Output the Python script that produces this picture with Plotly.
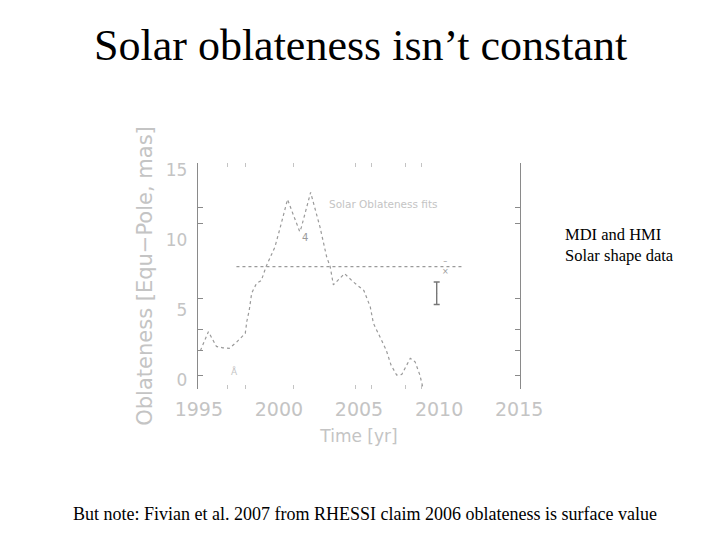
import plotly.graph_objects as go

# Oblateness curve
years = [1995.1, 1995.6, 1996.1, 1996.5, 1996.9, 1997.35, 1997.9, 1998.0, 1998.15, 1998.3,
         1998.6, 1998.9, 1999.2, 1999.75, 2000.06, 2000.54, 2000.9, 2001.3, 2001.4, 2001.98,
         2002.56, 2002.98, 2003.2, 2003.4, 2003.75, 2004.1, 2004.65, 2005.3, 2005.7, 2005.9,
         2006.4, 2006.7, 2007.0, 2007.35, 2007.67, 2008.2, 2008.5, 2008.8, 2009.0]
oblateness = [2.1, 3.45, 2.4, 2.3, 2.26, 2.7, 3.33, 4.2, 5.0, 6.2,
              6.9, 7.1, 8.1, 9.5, 10.8, 12.9, 11.8, 10.6, 10.9, 13.4,
              10.95, 8.8, 8.1, 6.8, 7.2, 7.6, 7.0, 6.4, 5.24, 4.05,
              2.86, 2.14, 1.07, 0.36, 0.4, 1.55, 1.3, 0.36, -0.6]

mean_years = [1997.35, 2011.4]
mean_value = [8.1, 8.1]

err_year = [2009.85]
err_value = [6.2]
err_half = [0.8]

x_tick_years = [1995, 2000, 2005, 2010, 2015]
y_tick_values = [0, 5, 10, 15]
x_minor = [1996.8, 1997.9, 2000.9, 2004.75, 2005.8, 2007.9, 2008.9]
y_minor = [0.36, 2.1, 3.6, 5.8, 11.2, 12.3]

faint = "#c4c4c4"
mid = "#9a9a9a"

# plot area in screen pixels: x 198..520, y 163..389 (page has an 8px body margin)
L, R, T, B = 190, 208, 155, 159
PW, PH = 322, 226


def px(x):
    return (x - 198) / PW


def py(y):
    return (389 - y) / PH


fig = go.Figure()
fig.add_trace(go.Scatter(x=years, y=oblateness, mode="lines",
                         line=dict(color=mid, width=1.2, dash="dot"), hoverinfo="skip"))
fig.add_trace(go.Scatter(x=mean_years, y=mean_value, mode="lines",
                         line=dict(color=mid, width=1.2, dash="dot"), hoverinfo="skip"))
fig.add_trace(go.Scatter(x=err_year, y=err_value, mode="markers",
                         marker=dict(size=1, color="#777"),
                         error_y=dict(type="data", array=err_half, color="#777",
                                      thickness=1.4, width=3), hoverinfo="skip"))
# invisible trace to activate overlay axes for minor ticks
fig.add_trace(go.Scatter(x=[2000], y=[5], xaxis="x2", yaxis="y2", mode="markers",
                         marker=dict(opacity=0), hoverinfo="skip"))

fig.update_layout(
    width=720, height=540,
    paper_bgcolor="white", plot_bgcolor="white",
    showlegend=False,
    margin=dict(l=L, r=R, t=T, b=B),
    xaxis=dict(range=[1994.95, 2015.05], tickvals=x_tick_years,
               ticktext=[str(v) for v in x_tick_years], ticks="", showgrid=False,
               zeroline=False, showline=False,
               tickfont=dict(family="DejaVu Sans", size=19, color=faint),
               ticklabelstandoff=7,
               title=dict(text="Time [yr]", standoff=11,
                          font=dict(family="DejaVu Sans", size=17, color=faint))),
    yaxis=dict(range=[-0.64, 15.5], tickvals=y_tick_values,
               ticktext=[str(v) for v in y_tick_values], ticks="", showgrid=False,
               zeroline=False, showline=True, linecolor="#8a8a8a", linewidth=1.3,
               mirror=True,
               tickfont=dict(family="DejaVu Sans", size=17, color=faint),
               ticklabelstandoff=6,
               title=dict(text="Oblateness [Equ\u2212Pole, mas]", standoff=7,
                          font=dict(family="DejaVu Sans", size=21, color=faint))),
    xaxis2=dict(overlaying="x", range=[1994.95, 2015.05], tickvals=x_minor,
                showticklabels=False, ticks="inside", ticklen=4, tickcolor=faint,
                mirror="ticks", showline=False, showgrid=False, zeroline=False),
    yaxis2=dict(overlaying="y", range=[-0.64, 15.5], tickvals=y_minor,
                showticklabels=False, ticks="inside", ticklen=5, tickcolor="#8a8a8a",
                mirror="ticks", showline=False, showgrid=False, zeroline=False),
)

fig.add_annotation(text="Solar oblateness isn\u2019t constant", xref="paper", yref="paper",
                   x=px(360), y=py(45), xanchor="center", yanchor="middle",
                   showarrow=False, font=dict(family="Liberation Serif", size=44, color="black"))
fig.add_annotation(text="MDI and HMI<br>Solar shape data", xref="paper", yref="paper",
                   x=px(563), y=py(245), xanchor="left", yanchor="middle",
                   align="left", showarrow=False,
                   font=dict(family="Liberation Serif", size=16.5, color="black"))
fig.add_annotation(text="But note: Fivian et al. 2007 from RHESSI claim 2006 oblateness is surface value",
                   xref="paper", yref="paper", x=px(365), y=py(514),
                   xanchor="center", yanchor="middle", showarrow=False,
                   font=dict(family="Liberation Serif", size=18, color="black"))
fig.add_annotation(text="Solar Oblateness fits", x=2003.0, y=12.6, xanchor="left",
                   showarrow=False, font=dict(family="DejaVu Sans", size=10.5, color=faint))
fig.add_annotation(text="4", x=2001.65, y=10.2, showarrow=False,
                   font=dict(family="DejaVu Sans", size=10, color=mid))
fig.add_annotation(text="\u00c5", x=1997.25, y=0.6, showarrow=False,
                   font=dict(family="DejaVu Sans", size=9, color=faint))
fig.add_annotation(text="\u2013<br>\u00d7", x=2010.4, y=8.1, showarrow=False,
                   font=dict(family="DejaVu Sans", size=8, color=mid))

fig.write_html("out.html")
